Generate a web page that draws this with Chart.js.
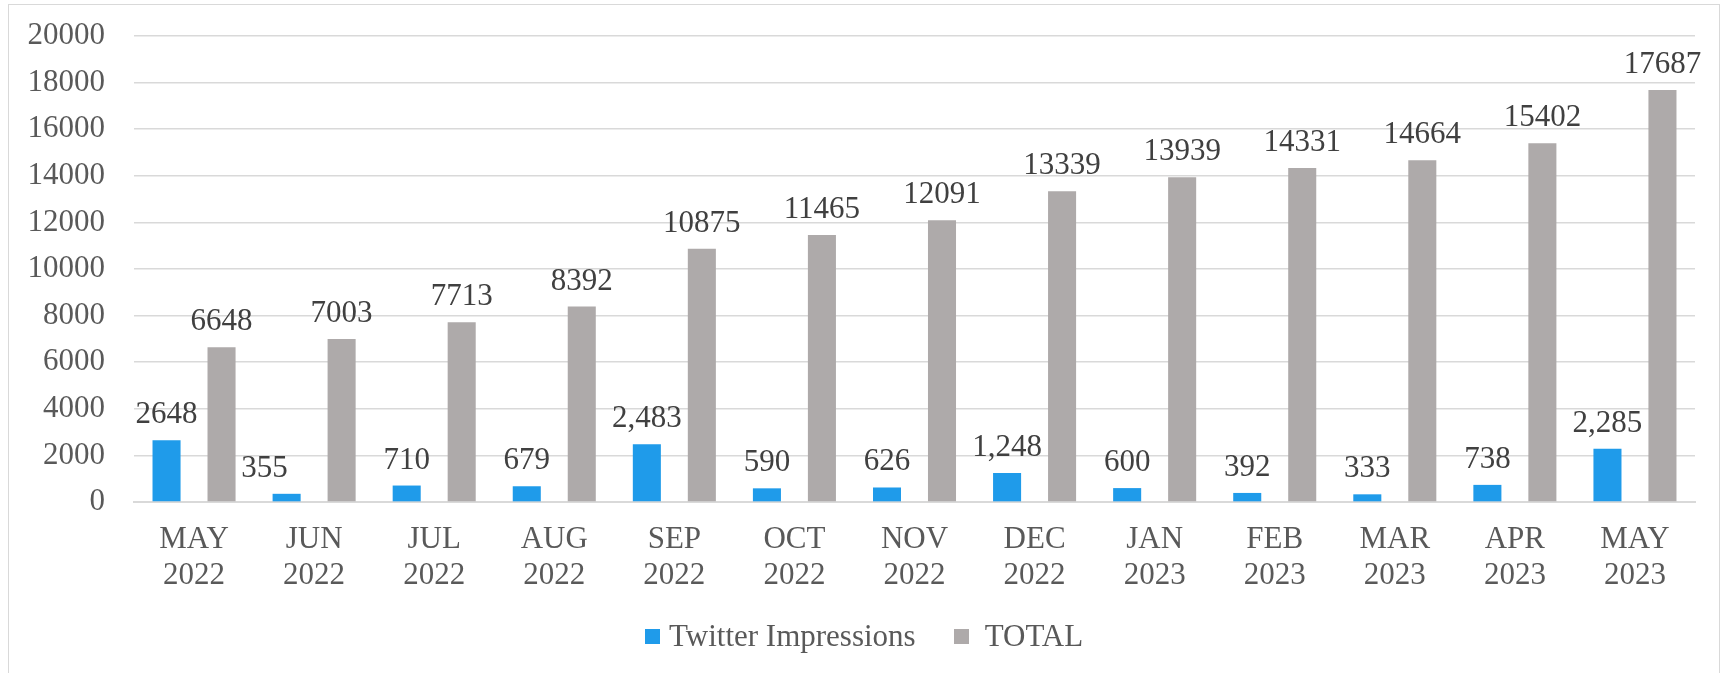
<!DOCTYPE html>
<html>
<head>
<meta charset="utf-8">
<script src="https://cdn.jsdelivr.net/npm/chart.js@4.4.1/dist/chart.umd.min.js"></script>
<style>
  html, body { margin: 0; padding: 0; background: #fff; overflow: hidden; }
  #wrap { position: relative; width: 1724px; height: 673px; overflow: hidden; }
  #frame { position: absolute; left: 8px; top: 4px; width: 1712px; height: 700px; border: 1.5px solid #d9d9d9; box-sizing: border-box; }
  #chart { position: absolute; left: 0; top: -11px; }
  .legend { position: absolute; left: 645px; top: 616px; display: flex; align-items: center;
    font-family: "Liberation Serif", "Times New Roman", serif; font-size: 31px; color: #595959; white-space: nowrap; }
  .legend .box { width: 15px; height: 15px; display: inline-block; }
  .legend .txt { line-height: 40px; }
</style>
</head>
<body>
<div id="wrap">
  <div id="frame"></div>
  <canvas id="chart" width="1724" height="684"></canvas>
  <div class="legend" id="legend"></div>
</div>
<script>
// monthly impressions, May 2022 - May 2023
const months = [
  ['MAY', '2022'], ['JUN', '2022'], ['JUL', '2022'], ['AUG', '2022'], ['SEP', '2022'],
  ['OCT', '2022'], ['NOV', '2022'], ['DEC', '2022'], ['JAN', '2023'], ['FEB', '2023'],
  ['MAR', '2023'], ['APR', '2023'], ['MAY', '2023'],
];
const twitterValues = [2648, 355, 710, 679, 2483, 590, 626, 1248, 600, 392, 333, 738, 2285];
const twitterLabels = ['2648', '355', '710', '679', '2,483', '590', '626', '1,248', '600', '392', '333', '738', '2,285'];
const totalValues = [6648, 7003, 7713, 8392, 10875, 11465, 12091, 13339, 13939, 14331, 14664, 15402, 17687];
const totalLabels = totalValues.map(v => String(v));
const yTicks = [0, 2000, 4000, 6000, 8000, 10000, 12000, 14000, 16000, 18000, 20000];

const FONT = '"Liberation Serif", "Times New Roman", serif';
const BLUE = '#1f9bea';
const GRAY = '#aeaaaa';

// value labels above every bar
const barLabels = {
  id: 'barLabels',
  afterDatasetsDraw(chart, args, opts) {
    const ctx = chart.ctx;
    const nudge = opts.nudge || {};
    ctx.save();
    ctx.font = '31px ' + FONT;
    ctx.fillStyle = '#404040';
    ctx.textAlign = 'center';
    ctx.textBaseline = 'alphabetic';
    chart.data.datasets.forEach((ds, i) => {
      chart.getDatasetMeta(i).data.forEach((bar, j) => {
        const dx = nudge[i + '-' + j] || 0;
        ctx.fillText(ds.valueLabels[j], bar.x + dx, bar.y - 17);
      });
    });
    ctx.restore();
  },
};

const datasets = [
  { label: 'Twitter Impressions', data: twitterValues, valueLabels: twitterLabels, backgroundColor: BLUE },
  { label: 'TOTAL', data: totalValues, valueLabels: totalLabels, backgroundColor: GRAY },
];

new Chart(document.getElementById('chart'), {
  type: 'bar',
  data: { labels: months, datasets },
  options: {
    responsive: false,
    animation: false,
    devicePixelRatio: 1,
    categoryPercentage: 0.916,
    barPercentage: 0.51,
    layout: { padding: { top: 6, left: 27, right: 29, bottom: 59 } },
    plugins: {
      legend: { display: false },
      tooltip: { enabled: false },
      barLabels: { nudge: { '0-1': -22 } }, // the JUN label sits left of its bar in the original
    },
    scales: {
      x: {
        grid: { display: false, drawTicks: false },
        border: { color: '#d9d9d9', width: 2 },
        ticks: { color: '#595959', padding: 20, maxRotation: 0, autoSkip: false,
          font: { family: FONT, size: 31, lineHeight: 1.16 } },
      },
      y: {
        min: 0, max: 20000,
        afterBuildTicks(axis) { axis.ticks = yTicks.map(v => ({ value: v })); },
        afterFit(axis) { axis.width = 107; },
        grid: { color: '#d9d9d9', lineWidth: 1.5, drawTicks: false },
        border: { display: false },
        ticks: { color: '#595959', padding: 29, callback: v => String(v),
          font: { family: FONT, size: 31, lineHeight: 1.16 } },
      },
    },
  },
  plugins: [barLabels],
});

// legend as html, same colours as the datasets
document.getElementById('legend').innerHTML = datasets.map((ds, i) =>
  `<span class="box" style="background:${ds.backgroundColor};margin-left:${i ? 38 : 0}px"></span>` +
  `<span class="txt" style="margin-left:${i ? 16 : 9}px">${ds.label}</span>`
).join('');
</script>
</body>
</html>
